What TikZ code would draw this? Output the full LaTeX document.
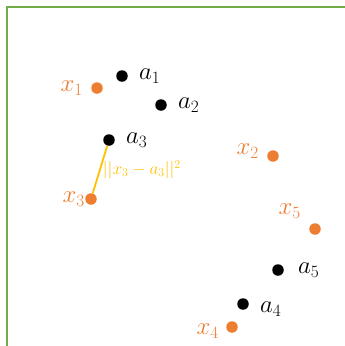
\documentclass[tikz,border=0pt]{standalone}
\usepackage{amsmath}
\usetikzlibrary{positioning}
\definecolor{ptorange}{HTML}{ED7D31}
\definecolor{gapyellow}{HTML}{FFC000}
\definecolor{framegreen}{HTML}{70AD47}

\begin{document}
\begin{tikzpicture}[x=1pt,y=-1pt,
    dot/.style={circle,inner sep=0pt,minimum size=11.5pt},
    adot/.style={dot,fill=black},
    xdot/.style={dot,fill=ptorange},
    alab/.style={inner sep=0pt,font=\fontsize{27}{30}\selectfont},
    xlab/.style={alab,text=ptorange},
    gaplab/.style={inner sep=0pt,text=gapyellow,font=\fontsize{17}{19}\selectfont},
    gapline/.style={gapyellow,line width=1.8pt}]
    \useasboundingbox (0,0) rectangle (345,346);
    \draw[framegreen,line width=1.6pt] (7,346) -- (7,7) -- (345,7);

    % reference points
    \node[adot] (a1) at (122,76) {};
    \node[adot] (a2) at (161,105) {};
    \node[adot] (a3) at (109,140) {};
    \node[adot] (a4) at (243,304) {};
    \node[adot] (a5) at (278,270) {};
    \node[alab,right=11pt of a1] {$a_1$};
    \node[alab,right=11pt of a2] {$a_2$};
    \node[alab,right=11pt of a3] {$a_3$};
    \node[alab,right=11pt of a4,yshift=-5pt] {$a_4$};
    \node[alab,right=14pt of a5] {$a_5$};

    % moved points
    \node[xdot] (x1) at (97,88) {};
    \node[xdot] (x2) at (273,156) {};
    \node[xdot] (x3) at (91,199) {};
    \node[xdot] (x4) at (232,327) {};
    \node[xdot] (x5) at (315,229) {};
    \node[xlab,left=8pt of x1] {$x_1$};
    \node[xlab,left=8pt of x2,yshift=5pt] {$x_2$};
    \node[xlab,left=0pt of x3] {$x_3$};
    \node[xlab,left=7pt of x4,yshift=-4pt] {$x_4$};
    \node[xlab,left=8pt of x5,yshift=18pt] {$x_5$};

    \draw[gapline] (a3) -- (x3)
        node[gaplab,midway,right=2pt] {$||x_3-a_3||^2$};
\end{tikzpicture}
\end{document}
